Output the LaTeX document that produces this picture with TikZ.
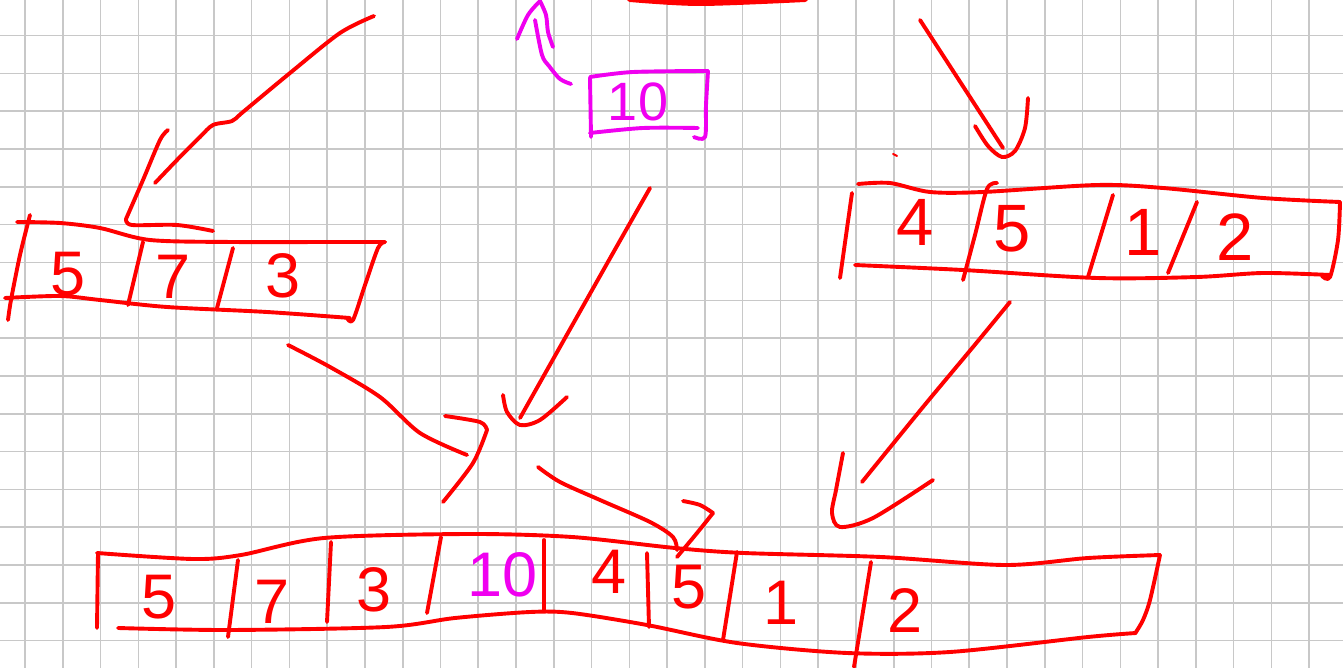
\documentclass[tikz,border=0pt]{standalone}
\usepackage{fontspec}
\setmainfont{Liberation Sans}
\definecolor{inkred}{HTML}{FF0000}
\definecolor{inkmag}{HTML}{F000F0}
\definecolor{gridgray}{HTML}{C8C8C8}
\tikzset{
  pen/.style={draw=inkred, line width=3.9pt, line cap=round, line join=round},
  magpen/.style={draw=inkmag, line width=3.9pt, line cap=round, line join=round},
  digit/.style={text=inkred, inner sep=0pt, font=\fontsize{63}{63}\selectfont},
  bigdigit/.style={digit, font=\fontsize{67}{67}\selectfont},
  magdigit/.style={digit, text=inkmag},
  gridline/.style={draw=gridgray, line width=1.6pt}
}
\begin{document}
\begin{tikzpicture}[x=1pt,y=-1pt]
\useasboundingbox (0,0) rectangle (1343,668);
\fill[white] (0,0) rectangle (1343,668);
% grid paper
\foreach \i in {0,...,34} \draw[gridline] ({25+37.77*\i},0) -- ({25+37.77*\i},668);
\foreach \j in {0,...,16} \draw[gridline] (0,{35.7+37.8*\j}) -- (1343,{35.7+37.8*\j});

% top stroke (cut off)
\draw[pen, line width=6pt] plot[smooth] coordinates {(630,-1) (700,3) (805,-1)};

% ---------- left box ----------
\draw[pen] plot[smooth] coordinates {(30,215) (20,255) (11,300) (8,320)};
\draw[pen] plot[smooth] coordinates {(17,222) (60,223) (100,228) (150,240) (233,242) (333,242) (385,242)};
\draw[pen] plot[smooth] coordinates {(385,242) (378,248) (365,285) (353,320) (347,318)};
\draw[pen] plot[smooth] coordinates {(5,298) (60,296) (100,300) (167,307) (267,312) (350,318)};
\draw[pen] (143,242) -- (128,305);
\draw[pen] (233,248) -- (217,308);
\node[digit] (l5) at (68,274) {5};
\node[digit] (l7) at (173,277) {7};
\node[digit] (l3) at (283,276) {3};

% ---------- right box ----------
\draw[pen] (852,193) -- (840,278);
\draw[pen] plot[smooth] coordinates {(858,184) (890,183) (930,192) (983,192) (1097,185) (1163,188) (1263,198) (1340,202)};
\draw[pen] plot[smooth] coordinates {(1340,202) (1338,240) (1330,277) (1322,276)};
\draw[pen] plot[smooth] coordinates {(855,265) (963,270) (1097,278) (1197,277) (1263,273) (1330,275)};
\draw[pen] plot[smooth] coordinates {(997,183) (987,189) (975,235) (963,280)};
\draw[pen] (1113,195) -- (1088,277);
\draw[pen] (1197,202) -- (1168,273);
\node[bigdigit] (r4) at (915,222) {4};
\node[bigdigit] (r5) at (1012,229) {5};
\node[bigdigit] (r1) at (1143,232) {1};
\node[bigdigit] (r2) at (1235,237) {2};

% ---------- magenta box ----------
\draw[magpen] (590,78) -- (591,137);
\draw[magpen] plot[smooth] coordinates {(590,77) (633,72) (708,71)};
\draw[magpen] plot[smooth] coordinates {(708,71) (706,105) (705,137) (694,137)};
\draw[magpen] plot[smooth] coordinates {(590,133) (643,128) (698,128)};
\node[magdigit, font=\fontsize{54}{54}\selectfont] (m10) at (638,102) {10};

% ---------- bottom box ----------
\draw[pen] (98,553) -- (97,628);
\draw[pen] plot[smooth] coordinates {(97,553) (193,559) (241,555) (324,538) (468,534) (572,537) (675,548) (744,553) (881,557) (1005,565) (1088,558) (1160,555)};
\draw[pen] plot[smooth] coordinates {(1160,555) (1150,600) (1143,620) (1136,632)};
\draw[pen] plot[smooth] coordinates {(118,628) (228,630) (386,627) (455,618) (530,612) (572,613) (647,625) (737,643) (847,653) (950,652) (1088,637) (1136,633)};
\draw[pen] (238,560) -- (228,637);
\draw[pen] (331,542) -- (327,622);
\draw[pen] (441,537) -- (427,613);
\draw[pen] (544,540) -- (544,610);
\draw[pen] (647,553) -- (649,627);
\draw[pen] (737,552) -- (723,640);
\draw[pen] (871,562) -- (854,667);
\node[digit] (b5) at (159,597) {5};
\node[digit] (b7) at (272,602) {7};
\node[digit] (b3) at (374,590) {3};
\node[magdigit] (b10) at (503,575) {10};
\node[digit] (b4) at (609,572) {4};
\node[digit] (b5b) at (689,587) {5};
\node[digit] (b1) at (781,603) {1};
\node[digit] (b2) at (905,610) {2};

% ---------- arrows ----------
% top-left into left box
\draw[pen] plot[smooth] coordinates {(374,16) (340,33) (290,73) (243,112) (232,121) (213,125) (200,137) (177,160) (155,183)};
\draw[pen] plot[smooth, tension=0.5] coordinates {(168,130) (160,140) (143,180) (126,219)};
\draw[pen] plot[smooth] coordinates {(126,219) (132,225) (177,225) (213,231)};
% magenta arrow upward
\draw[magpen] plot[smooth] coordinates {(571,84) (560,79) (549,66) (542,55) (535,20)};
\draw[magpen] plot[smooth] coordinates {(517,39) (528,15) (540,1)};
\draw[magpen] plot[smooth] coordinates {(540,1) (546,15) (548,32) (553,47)};
% top right into right box
\draw[pen] (920,20) -- (1003,148);
\draw[pen] plot[smooth] coordinates {(975,126) (988,146) (1002,157) (1015,151) (1025,128) (1028,98)};
% left box to bottom
\draw[pen] plot[smooth] coordinates {(288,345) (330,367) (380,397) (420,433) (467,455)};
\draw[pen] plot[smooth] coordinates {(445,416) (480,422) (487,430)};
\draw[pen] plot[smooth] coordinates {(487,430) (473,463) (443,502)};
% magenta box down
\draw[pen] plot[smooth] coordinates {(650,188) (613,253) (547,370) (520,418)};
\draw[pen] plot[smooth] coordinates {(503,395) (507,412) (520,425) (540,420) (567,397)};
% lower curve to bottom box
\draw[pen] plot[smooth] coordinates {(538,467) (560,482) (600,500) (650,522) (673,537) (677,550)};
\draw[pen] plot[smooth] coordinates {(683,501) (700,505) (713,513)};
\draw[pen] plot[smooth] coordinates {(713,513) (697,533) (677,557)};
% right box to bottom
\draw[pen] plot[smooth] coordinates {(1010,302) (973,347) (923,407) (862,482)};
\draw[pen] plot[smooth] coordinates {(843,453) (836,490) (832,513) (840,527) (873,518) (933,480)};
% stray tick
\draw[pen, line width=2pt] (893,154) -- (897,156);
\end{tikzpicture}
\end{document}
